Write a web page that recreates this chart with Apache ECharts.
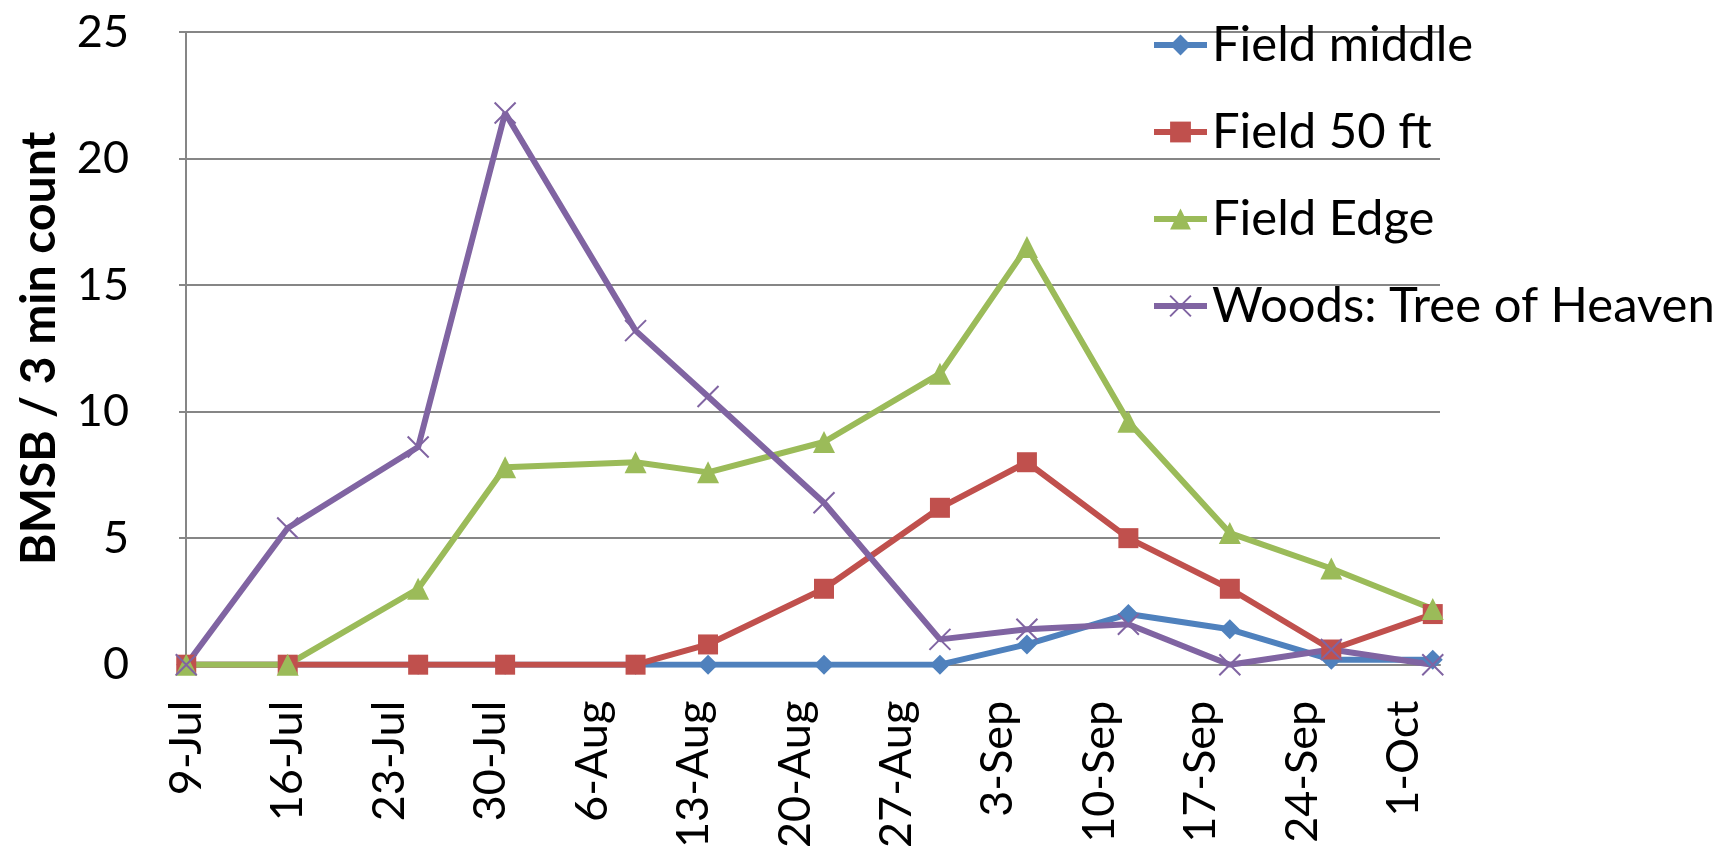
<!DOCTYPE html>
<html>
<head>
<meta charset="utf-8">
<title>BMSB counts</title>
<script src="https://cdn.jsdelivr.net/npm/echarts@6/dist/echarts.min.js"></script>
<style>
  html, body { margin: 0; padding: 0; background: #fff; }
  #chart { width: 1725px; height: 851px; }
</style>
</head>
<body>
<div id="chart"></div>
<script>
// Sampling dates (weekly-ish visits)
const sampleDates = ['2013-07-09', '2013-07-16', '2013-07-25', '2013-07-31', '2013-08-09', '2013-08-14',
  '2013-08-22', '2013-08-30', '2013-09-05', '2013-09-12', '2013-09-19', '2013-09-26', '2013-10-03'];

// BMSB per 3-minute count at each location
const fieldMiddle = [0, 0, 0, 0, 0, 0, 0, 0, 0.8, 2.0, 1.4, 0.2, 0.2];
const field50ft   = [0, 0, 0, 0, 0, 0.8, 3.0, 6.2, 8.0, 5.0, 3.0, 0.6, 2.0];
const fieldEdge   = [0, 0, 3.0, 7.8, 8.0, 7.6, 8.8, 11.5, 16.5, 9.6, 5.2, 3.8, 2.2];
const woodsToH    = [0, 5.4, 8.6, 21.8, 13.2, 10.6, 6.4, 1.0, 1.4, 1.6, 0, 0.6, 0];

// Weekly date ticks on the horizontal axis
const tickDates  = ['2013-07-09', '2013-07-16', '2013-07-23', '2013-07-30', '2013-08-06', '2013-08-13',
  '2013-08-20', '2013-08-27', '2013-09-03', '2013-09-10', '2013-09-17', '2013-09-24', '2013-10-01'];
const tickLabels = ['9-Jul', '16-Jul', '23-Jul', '30-Jul', '6-Aug', '13-Aug', '20-Aug', '27-Aug',
  '3-Sep', '10-Sep', '17-Sep', '24-Sep', '1-Oct'];

const seriesNames = ['Field middle', 'Field 50 ft', 'Field Edge', 'Woods: Tree of Heaven'];

// The horizontal axis counts days from the first sampling date
const DAY = 24 * 3600 * 1000;
function ts(s) {
  const p = s.split('-').map(Number);
  return Date.UTC(p[0], p[1] - 1, p[2]);
}
const t0 = ts(sampleDates[0]);
const dayOf = s => Math.round((ts(s) - t0) / DAY);
const sampleDays = sampleDates.map(dayOf);
const tickDays = tickDates.map(dayOf);
const labelByDay = {};
tickDays.forEach((d, i) => { labelByDay[d] = tickLabels[i]; });

const FONT = 'Lato, "Open Sans", sans-serif';
const colors = ['#4F81BD', '#C0504D', '#9BBB59', '#8064A2'];
const symbols = ['diamond', 'rect', 'triangle', 'path://M0 0L10 10M10 0L0 10'];
const symbolSizes = [20, 20, 22, 21];
const values = [fieldMiddle, field50ft, fieldEdge, woodsToH];

const series = values.map((vals, k) => ({
  name: seriesNames[k],
  type: 'line',
  data: vals.map((v, i) => [sampleDays[i], v]),
  symbol: symbols[k],
  symbolSize: symbolSizes[k],
  showAllSymbol: true,
  lineStyle: { color: colors[k], width: 6 },
  itemStyle: k === 3
    ? { color: colors[k], borderColor: colors[k], borderWidth: 2 }
    : { color: colors[k], borderWidth: 0 },
  emphasis: { disabled: true },
  animation: false
}));

const chart = echarts.init(document.getElementById('chart'), null, { renderer: 'canvas' });
chart.setOption({
  backgroundColor: '#fff',
  animation: false,
  grid: { left: 179, right: 285, top: 32, bottom: 185 },
  legend: {
    orient: 'vertical',
    left: 1146,
    top: 13,
    itemWidth: 53,
    itemHeight: 26,
    itemGap: 33,
    data: seriesNames,
    lineStyle: { width: 6 },
    textStyle: { fontFamily: FONT, fontSize: 49, color: '#000', lineHeight: 54 }
  },
  xAxis: {
    type: 'value',
    min: sampleDays[0] - 0.5,
    max: sampleDays[sampleDays.length - 1] + 0.5,
    axisLine: { show: true, onZero: false, lineStyle: { color: '#868686', width: 2 } },
    axisTick: { show: false },
    splitLine: { show: false },
    axisLabel: {
      customValues: tickDays,
      rotate: 90,
      margin: 36,
      fontFamily: FONT,
      fontSize: 45,
      color: '#000',
      hideOverlap: false,
      showMinLabel: true,
      showMaxLabel: true,
      formatter: v => labelByDay[v] || ''
    }
  },
  yAxis: {
    type: 'value',
    min: 0,
    max: 25,
    interval: 5,
    name: 'BMSB / 3 min count',
    nameLocation: 'middle',
    nameRotate: 90,
    nameGap: 115,
    nameTextStyle: { fontFamily: FONT, fontSize: 48, fontWeight: 'bold', color: '#000' },
    axisLine: { show: true, lineStyle: { color: '#868686', width: 2 } },
    axisTick: { show: false },
    splitLine: { show: true, lineStyle: { color: '#868686', width: 2 } },
    axisLabel: { margin: 50, fontFamily: FONT, fontSize: 45, color: '#000' }
  },
  series: series
});
</script>
</body>
</html>
